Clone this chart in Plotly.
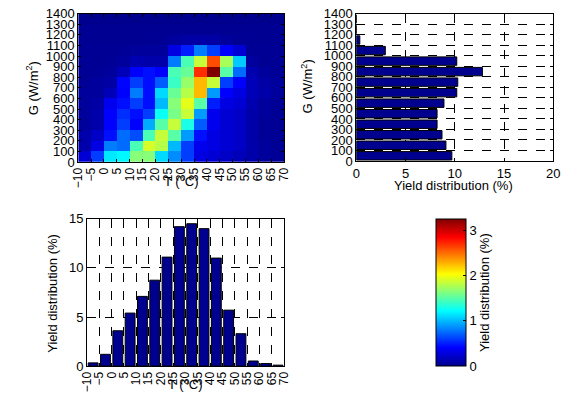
import plotly.graph_objects as go

W, H = 574, 403

# ---- data ----
t_edges = list(range(-10, 75, 5))          # 17 edges, 16 bins
g_edges = list(range(0, 1500, 100))        # 15 edges, 14 bins
t_centers = [t + 2.5 for t in t_edges[:-1]]
g_centers = [g + 50 for g in g_edges[:-1]]

# heatmap (% of yield per cell); rows: G bins bottom->top, cols: T bins
z_row0 = [0.25, 0.6, 1.15, 1.2, 1.65, 1.65, 1.1, 0.85, 0.6, 0.3, 0.25, 0.2, 0.15, 0.1, 0.05, 0.03]
z_row1 = [0.1, 0.3, 0.8, 0.75, 1.45, 1.9, 1.8, 1.0, 0.6, 0.35, 0.3, 0.25, 0.2, 0.1, 0.05, 0.02]
z_row2 = [0.1, 0.2, 0.45, 0.75, 0.65, 1.45, 1.85, 1.5, 0.9, 0.45, 0.3, 0.25, 0.2, 0.1, 0.03, 0.02]
z_row3 = [0.05, 0.1, 0.4, 0.6, 0.4, 0.95, 1.5, 1.85, 1.3, 0.7, 0.35, 0.25, 0.2, 0.1, 0.03, 0.02]
z_row4 = [0.05, 0.1, 0.4, 0.55, 0.45, 0.6, 1.25, 1.6, 1.85, 0.9, 0.35, 0.25, 0.2, 0.1, 0.05, 0.02]
z_row5 = [0.05, 0.08, 0.35, 0.45, 0.6, 0.45, 1.0, 1.65, 1.95, 1.5, 0.5, 0.3, 0.25, 0.12, 0.05, 0.03]
z_row6 = [0.05, 0.05, 0.15, 0.4, 0.8, 0.45, 1.1, 1.55, 1.8, 2.25, 0.9, 0.4, 0.3, 0.15, 0.1, 0.05]
z_row7 = [0.03, 0.05, 0.08, 0.42, 0.6, 0.45, 0.7, 1.4, 1.7, 2.25, 1.85, 0.6, 0.4, 0.15, 0.08, 0.05]
z_row8 = [0.02, 0.03, 0.05, 0.15, 0.4, 0.45, 0.4, 1.45, 1.55, 2.7, 3.25, 1.5, 0.75, 0.12, 0.05, 0.03]
z_row9 = [0.02, 0.02, 0.03, 0.05, 0.12, 0.1, 0.1, 0.8, 1.45, 1.85, 2.6, 1.75, 1.05, 0.05, 0.02, 0.02]
z_row10 = [0.02, 0.02, 0.02, 0.03, 0.04, 0.05, 0.05, 0.3, 0.5, 0.8, 0.6, 0.4, 0.25, 0.02, 0.02, 0.02]
z_row11 = [0.01, 0.01, 0.01, 0.01, 0.01, 0.01, 0.02, 0.05, 0.08, 0.08, 0.08, 0.05, 0.02, 0.01, 0.01, 0.01]
z_row12 = [0.01, 0.01, 0.01, 0.01, 0.01, 0.01, 0.01, 0.01, 0.01, 0.01, 0.01, 0.01, 0.01, 0.01, 0.01, 0.01]
z_row13 = [0.0, 0.0, 0.0, 0.0, 0.0, 0.0, 0.0, 0.0, 0.0, 0.0, 0.0, 0.0, 0.0, 0.0, 0.0, 0.0]
z = [z_row0, z_row1, z_row2, z_row3, z_row4, z_row5, z_row6,
     z_row7, z_row8, z_row9, z_row10, z_row11, z_row12, z_row13]

# yield distribution per G bin (%)
g_yield = [9.7, 9.1, 8.7, 8.2, 8.2, 8.9, 10.2, 10.3, 12.8, 10.2, 2.95, 0.36, 0.0, 0.0]
# yield distribution per T bin (%)
t_yield = [0.33, 1.2, 3.6, 5.4, 7.1, 8.75, 11.1, 14.2, 14.5, 14.0, 11.0, 5.7, 3.3, 0.52, 0.26, 0.1]

t_ticks = list(range(-10, 75, 5))
g_ticks = list(range(0, 1500, 100))

jet = [[0, "rgb(0,0,143)"], [0.125, "rgb(0,0,255)"], [0.375, "rgb(0,255,255)"],
       [0.625, "rgb(255,255,0)"], [0.875, "rgb(255,0,0)"], [1, "rgb(128,0,0)"]]
navy = "rgb(0,0,143)"
FONT = "Liberation Sans, Arial, sans-serif"

def px_x(a, b):
    return [a / W, b / W]

def px_y(top, bottom):
    return [1 - bottom / H, 1 - top / H]

fig = go.Figure()

fig.add_trace(go.Heatmap(
    x=t_edges, y=g_edges, z=z, colorscale=jet, zmin=0, zmax=max(max(r) for r in z),
    xaxis="x", yaxis="y",
    colorbar=dict(x=440 / W, xanchor="left", y=1 - 373 / H, yanchor="bottom",
                  len=153 / H, lenmode="fraction", thickness=30, thicknessmode="pixels",
                  xpad=0, ypad=0, outlinewidth=1, outlinecolor="black",
                  ticks="inside", ticklen=3, tickcolor="black",
                  tickvals=[0, 1, 2, 3], tickfont=dict(size=13, color="black", family=FONT)),
))

fig.add_trace(go.Bar(
    x=g_yield, y=g_centers, orientation="h", width=80,
    marker=dict(color=navy, line=dict(color="black", width=1)),
    xaxis="x2", yaxis="y2", showlegend=False,
))

fig.add_trace(go.Bar(
    x=t_centers, y=t_yield, width=4,
    marker=dict(color=navy, line=dict(color="black", width=1)),
    xaxis="x3", yaxis="y3", showlegend=False,
))

def common(size):
    return dict(showline=True, linecolor="black", linewidth=1, mirror="allticks",
                ticks="inside", ticklen=3, tickcolor="black", zeroline=False,
                tickfont=dict(size=size, color="black", family=FONT))

grid = dict(showgrid=True, gridcolor="black", griddash="dash", gridwidth=1)
nogrid = dict(showgrid=False)

fig.update_layout(
    width=W, height=H, margin=dict(l=0, r=0, t=0, b=0),
    paper_bgcolor="white", plot_bgcolor="white", showlegend=False,
    font=dict(family=FONT, color="black", size=12),
    xaxis=dict(domain=px_x(73, 284), range=[-10, 70], tickvals=t_ticks, tickangle=-90,
               anchor="y", **common(12), **nogrid),
    yaxis=dict(domain=px_y(7, 161), range=[0, 1400], tickvals=g_ticks,
               anchor="x", **common(13), **nogrid),
    xaxis2=dict(domain=px_x(358, 560), range=[0, 20], tickvals=[0, 5, 10, 15, 20],
                anchor="y2", **common(13), **grid),
    yaxis2=dict(domain=px_y(7, 160), range=[0, 1400], tickvals=g_ticks,
                anchor="x2", **common(13), **grid),
    xaxis3=dict(domain=px_x(82, 284), range=[-10, 70], tickvals=t_ticks, tickangle=-90,
                anchor="y3", **common(12), **grid),
    yaxis3=dict(domain=px_y(220, 373), range=[0, 15], tickvals=[0, 5, 10, 15],
                anchor="x3", **common(13), **grid),
)

def ann(text, x, y, angle=0):
    fig.add_annotation(text=text, x=x / W, y=1 - y / H, xref="paper", yref="paper",
                       showarrow=False, textangle=angle, xanchor="center", yanchor="middle",
                       font=dict(size=13, color="black", family=FONT))

ann("T (°C)", 179, 181)
ann("G (W/m<sup>2</sup>)", 26, 84, -90)
ann("G (W/m<sup>2</sup>)", 307, 83, -90)
ann("Yield distribution (%)", 458, 185)
ann("Yield distribution (%)", 47, 297, -90)
ann("T (°C)", 183, 392)
ann("Yield distribution (%)", 490, 297, -90)

fig.write_html("out.html")
